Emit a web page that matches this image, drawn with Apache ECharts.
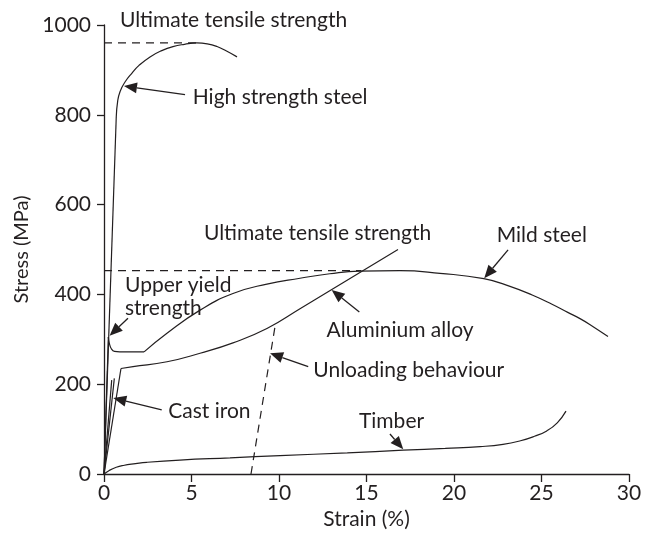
<!DOCTYPE html>
<html>
<head>
<meta charset="utf-8">
<script src="https://cdn.jsdelivr.net/npm/echarts@6/dist/echarts.min.js"></script>
<style>
  html, body { margin: 0; padding: 0; background: #fff; }
  #chart { width: 657px; height: 541px; }
</style>
</head>
<body>
<div id="chart"></div>
<script>
// strain (%) / stress (MPa) pairs
const highSteelElastic = [[0, 0], [0.7, 795]]
const highSteelPlastic = [[0.7, 795], [0.78, 830], [0.92, 852], [1.2, 873], [1.6, 893], [2.0, 910], [2.63, 929], [3.3, 943], [3.94, 952], [4.6, 957], [5.3, 960], [5.9, 958], [6.46, 952], [7.0, 942], [7.6, 929]]
const mildElastic = [[0, 0], [0.25, 305]]
const mildYield = [[0.25, 305], [0.3, 292], [0.42, 279], [0.6, 273], [0.9, 272], [2.29, 272]]
const mildHardening = [[2.29, 272], [3.58, 313], [5.49, 365], [7.37, 402], [9.31, 423], [11.2, 436], [12.9, 446], [14.6, 452], [16.9, 453], [19.2, 447], [21.7, 435], [23.2, 418], [24.5, 398], [25.6, 378], [26.5, 360], [27.2, 346], [27.8, 332], [28.8, 306]]
const aluminiumElastic = [[0, 0], [0.97, 235]]
const aluminiumPlastic = [[0.97, 235], [1.66, 239], [3.6, 250], [5.49, 269], [7.37, 292], [9.31, 324], [11.2, 368], [12.9, 408], [14.6, 448], [16.8, 500]]
const castIronA = [[0, 0], [0.44, 209]]
const castIronB = [[0, 0], [0.59, 213]]
const timber = [[0, 0], [0.3, 8], [0.7, 15], [1.1, 19], [1.8, 23], [2.44, 26], [4.34, 31], [7.2, 36], [10.06, 41], [13.9, 47], [17.1, 53], [19.5, 57], [21.5, 61], [22.8, 66], [23.8, 74], [24.6, 84], [25.3, 96], [25.9, 114], [26.4, 140]]
const unloading = [[8.4, 0], [9.8, 335]]
const utsHigh = [[0, 960], [5.3, 960]]
const utsMild = [[0, 453], [14.7, 453]]

const xTicks = [0, 5, 10, 15, 20, 25, 30]
const yTicks = [0, 200, 400, 600, 800, 1000]

// labels: text, left-middle anchor in data units
const labels = [
  ['Ultimate tensile strength', [0.91, 1011]],
  ['High strength steel', [5.07, 840]],
  ['Upper yield\nstrength', [1.2, 395]],
  ['Ultimate tensile strength', [5.71, 536]],
  ['Mild steel', [22.44, 532]],
  ['Aluminium alloy', [12.72, 321]],
  ['Unloading behaviour', [11.96, 232]],
  ['Cast iron', [3.67, 139]],
  ['Timber', [14.57, 118]]
]
// arrows: from -> tip, data units
const arrows = [
  [[4.63, 845], [1.14, 864]],
  [[1.37, 347], [0.32, 308]],
  [[23.09, 499], [21.73, 436]],
  [[14.59, 361], [13.01, 410]],
  [[11.67, 239], [9.49, 269]],
  [[3.3, 143], [0.53, 169]],
  [[16.34, 89], [17.1, 55]]
]

const ink = '#231f20'
const font = 'Lato, "DejaVu Sans", sans-serif'

function curve(data, smooth, dashed) {
  return {
    type: 'line',
    data: data,
    smooth: smooth,
    symbol: 'none',
    clip: false,
    silent: true,
    lineStyle: { color: ink, width: 1.2, type: dashed ? [8, 6] : 'solid' }
  }
}

const chart = echarts.init(document.getElementById('chart'))

const option = {
  animation: false,
  backgroundColor: '#fff',
  grid: { left: 104, right: 28, top: 25, bottom: 67 },
  xAxis: {
    type: 'value',
    min: xTicks[0],
    max: xTicks[xTicks.length - 1],
    interval: xTicks[1] - xTicks[0],
    name: 'Strain (%)',
    nameLocation: 'middle',
    nameGap: 35,
    nameTextStyle: { fontSize: 21, color: ink, fontFamily: font },
    axisLine: { lineStyle: { color: ink, width: 1.3 } },
    axisTick: { length: 8, lineStyle: { color: ink, width: 1.3 } },
    axisLabel: { fontSize: 21, color: ink, fontFamily: font, margin: 9, formatter: v => String(v) },
    splitLine: { show: false }
  },
  yAxis: {
    type: 'value',
    min: yTicks[0],
    max: yTicks[yTicks.length - 1],
    interval: yTicks[1] - yTicks[0],
    name: 'Stress (MPa)',
    nameLocation: 'middle',
    nameGap: 70,
    nameTextStyle: { fontSize: 20, color: ink, fontFamily: font },
    axisLine: { show: true, lineStyle: { color: ink, width: 1.3 } },
    axisTick: { show: true, length: 7, lineStyle: { color: ink, width: 1.3 } },
    axisLabel: { fontSize: 21, color: ink, fontFamily: font, margin: 13, formatter: v => String(v) },
    splitLine: { show: false }
  },
  series: [
    curve(highSteelElastic, false),
    curve(highSteelPlastic, 0.5),
    curve(mildElastic, false),
    curve(mildYield, 0.5),
    curve(mildHardening, 0.5),
    curve(aluminiumElastic, false),
    curve(aluminiumPlastic, 0.5),
    curve(castIronA, false),
    curve(castIronB, false),
    curve(timber, 0.5),
    curve(unloading, false, true),
    curve(utsHigh, false, true),
    curve(utsMild, false, true)
  ]
}
chart.setOption(option)

// text + arrows placed through the grid's scales
const toPx = p => chart.convertToPixel({ gridIndex: 0 }, p)
const graphics = []
labels.forEach(([text, at]) => {
  const p = toPx(at)
  graphics.push({
    type: 'text',
    x: p[0],
    y: p[1],
    style: { text: text, fill: ink, fontSize: 21, fontFamily: font, lineHeight: 23, verticalAlign: 'middle', align: 'left' }
  })
})
arrows.forEach(([from, to]) => {
  const a = toPx(from)
  const b = toPx(to)
  const dx = b[0] - a[0]
  const dy = b[1] - a[1]
  const len = Math.sqrt(dx * dx + dy * dy)
  const ux = dx / len
  const uy = dy / len
  const head = 13
  const half = 5.5
  const bx = b[0] - ux * head
  const by = b[1] - uy * head
  graphics.push({
    type: 'line',
    shape: { x1: a[0], y1: a[1], x2: bx, y2: by },
    style: { stroke: ink, lineWidth: 1.3 }
  })
  graphics.push({
    type: 'polygon',
    shape: { points: [[b[0], b[1]], [bx - uy * half, by + ux * half], [bx + uy * half, by - ux * half]] },
    style: { fill: ink }
  })
})
chart.setOption({ graphic: graphics })
</script>
</body>
</html>
